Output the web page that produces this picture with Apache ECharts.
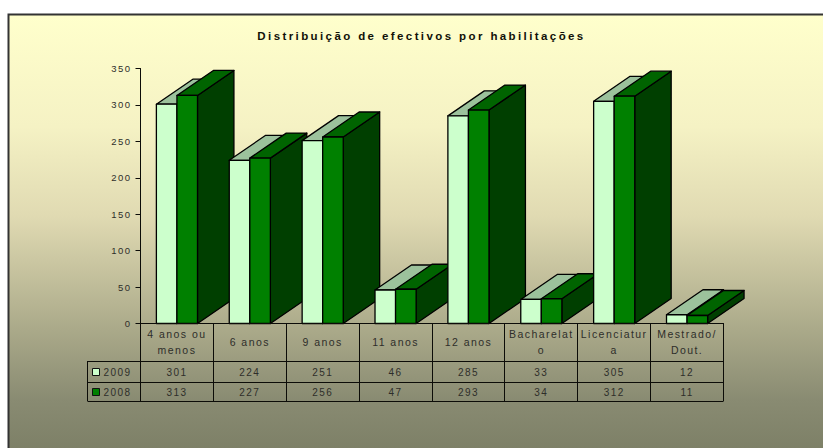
<!DOCTYPE html>
<html><head><meta charset="utf-8">
<script src="https://cdn.jsdelivr.net/npm/echarts@6/dist/echarts.min.js"></script>
<style>
html,body{margin:0;padding:0;background:#fff}
#c{width:823px;height:448px}
#c svg text{letter-spacing:1.45px}
#c svg text[font-weight="bold"],#c svg text[style*="bold"]{letter-spacing:2.4px}
</style></head><body><div id="c"></div>
<script>
const titleText = 'Distribuição de efectivos por habilitações';
const categories = ['4 anos ou\nmenos','6 anos','9 anos','11 anos','12 anos','Bacharelat\no','Licenciatur\na','Mestrado/\nDout.'];
const seriesNames = ['2009','2008'];
const values2009 = [301,224,251,46,285,33,305,12];
const values2008 = [313,227,256,47,293,34,312,11];
const yTicks = {min:0,max:350,interval:50};

const W=823,H=448;
const L=140.5,R=723.5,T=68.5,B=323.5;
const rowY=[B,361,382,401], tableLeft=87.5;
const styles=[
 {front:'#CCFFCC',top:'#9CC29C',side:'#669966'},
 {front:'#008000',top:'#006400',side:'#003F00'}
];
const textColor='#2e2e2a', lineColor='#0c0c08';

function bar(si){
  return function(params,api){
    const i=api.value(0), v=api.value(1);
    const base=api.coord([i,0]), tip=api.coord([i,v]);
    const band=api.size([1,0])[0];
    const w=band*0.282, dx=band*0.5, dy=-25;
    const x0=base[0]-w+si*w, x1=x0+w, y0=base[1], y1=tip[1];
    const st=styles[si], z2=i*2+si;
    const poly=(pts,fill)=>({type:'polygon',z2,shape:{points:pts},
      style:{fill,stroke:'#000',lineWidth:1.3,lineJoin:'round'}});
    return {type:'group',children:[
      poly([[x1,y0],[x1+dx,y0+dy],[x1+dx,y1+dy],[x1,y1]],st.side),
      poly([[x0,y1],[x1,y1],[x1+dx,y1+dy],[x0+dx,y1+dy]],st.top),
      poly([[x0,y0],[x1,y0],[x1,y1],[x0,y1]],st.front)
    ]};
  };
}

const colW=(R-L)/categories.length;
const g=[];
g.push({type:'rect',z:-10,shape:{x:8.5,y:14.5,width:W,height:H},
  style:{stroke:'#333333',lineWidth:2,fill:{type:'linear',x:0,y:0,x2:0,y2:1,colorStops:[
    {offset:0,color:'#FFFFCC'},{offset:0.25,color:'#F5F2C4'},{offset:0.45,color:'#E0DAB2'},
    {offset:0.7,color:'#ABAA8A'},{offset:0.86,color:'#898B72'},{offset:1,color:'#7A7D64'}]}}});
const ln=(x1,y1,x2,y2)=>g.push({type:'line',z:5,shape:{x1,y1,x2,y2},style:{stroke:lineColor,lineWidth:1}});
for(let i=0;i<=categories.length;i++){const x=Math.round(L+i*colW-0.5)+0.5;ln(x,B,x,rowY[3]);}
ln(L,rowY[0],R,rowY[0]);
[1,2,3].forEach(r=>ln(tableLeft,rowY[r]+.5,R,rowY[r]+.5));
ln(tableLeft,rowY[1],tableLeft,rowY[3]);
const txt=(x,y,t,align)=>g.push({type:'text',z:6,x,y,style:{text:t,fill:textColor,font:'10px "Liberation Sans"',textAlign:align,textVerticalAlign:'middle'}});
[values2009,values2008].forEach((vals,r)=>{
  const cy=(rowY[r+1]+rowY[r+2])/2+0.5;
  vals.forEach((v,i)=>txt(L+(i+.5)*colW,cy,String(v),'center'));
  g.push({type:'rect',z:6,shape:{x:92.5,y:cy-3.5,width:7,height:7},style:{fill:styles[r].front,stroke:'#111',lineWidth:1}});
  txt(103.5,cy,seriesNames[r],'left');
});

const chart=echarts.init(document.getElementById('c'),null,{renderer:'svg',width:W,height:H});
chart.setOption({
  animation:false,
  backgroundColor:'#ffffff',
  title:{text:titleText,left:416.5,top:25,textAlign:'center',
    textStyle:{fontFamily:'Liberation Sans',fontSize:11.5,fontWeight:'bold',color:'#111108'}},
  grid:{left:L,right:W-R,top:T,bottom:H-B,containLabel:false},
  xAxis:{type:'category',data:categories,boundaryGap:true,
    axisLine:{show:true,lineStyle:{color:lineColor,width:1}},axisTick:{show:false},
    axisLabel:{interval:0,margin:18,verticalAlign:'middle',lineHeight:16,color:textColor,
      fontFamily:'Liberation Sans',fontSize:10.5,hideOverlap:false},
    splitLine:{show:false}},
  yAxis:{type:'value',min:yTicks.min,max:yTicks.max,interval:yTicks.interval,
    axisLine:{show:true,lineStyle:{color:lineColor,width:1}},
    axisTick:{show:true,length:5,lineStyle:{color:lineColor,width:1}},
    axisLabel:{margin:9,color:textColor,fontFamily:'Liberation Sans',fontSize:9.5},
    splitLine:{show:false}},
  graphic:{elements:g},
  series:[values2009,values2008].map((vals,si)=>({
    type:'custom',name:seriesNames[si],clip:false,silent:true,
    encode:{x:0,y:1},
    data:vals.map((v,i)=>[i,v]),
    renderItem:bar(si)
  }))
});
</script></body></html>
